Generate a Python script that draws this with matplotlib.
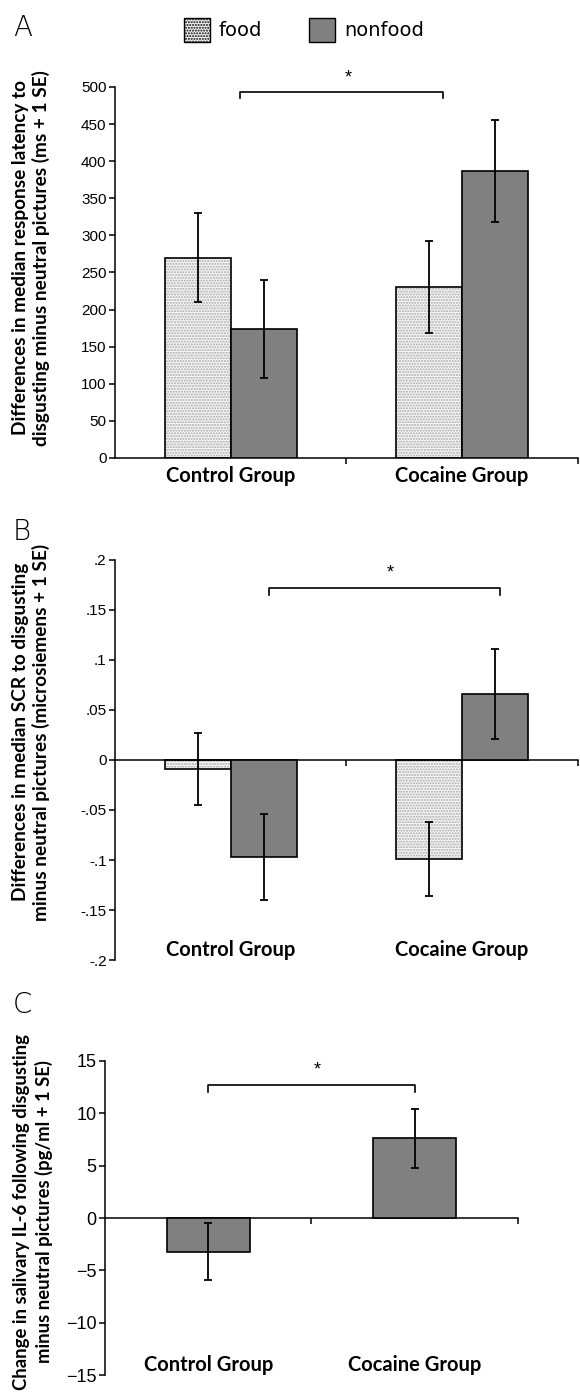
import numpy as np
import matplotlib
matplotlib.use("Agg")
import matplotlib.pyplot as plt
from matplotlib.patches import Patch

plt.rcParams['font.family'] = ['Liberation Sans', 'DejaVu Sans']

groups = ['Control Group', 'Cocaine Group']

# panel A: response latency (ms)
latency_food = [270, 230]
latency_food_se = [60, 62]
latency_nonfood = [174, 387]
latency_nonfood_se = [66, 69]

# panel B: SCR (microsiemens)
scr_food = [-0.009, -0.099]
scr_food_se = [0.036, 0.037]
scr_nonfood = [-0.097, 0.066]
scr_nonfood_se = [0.043, 0.045]

# panel C: IL-6 (pg/ml)
il6 = [-3.2, 7.6]
il6_se = [2.7, 2.8]

b_ticks = [-0.2, -0.15, -0.1, -0.05, 0, 0.05, 0.1, 0.15, 0.2]
b_ticklabels = ['-.2', '-.15', '-.1', '-.05', '0', '.05', '.1', '.15', '.2']

GREY = '#808080'
W = 0.285
lab_font = dict(family=['Lato', 'DejaVu Sans'], fontweight='bold')

fig = plt.figure(figsize=(5.8, 13.96), dpi=100)
axA = fig.add_axes([0.198, 0.672, 0.798, 0.2657])
axB = fig.add_axes([0.198, 0.3123, 0.798, 0.2866])
axC = fig.add_axes([0.181, 0.015, 0.712, 0.225])

x = np.arange(len(groups))


def food_bars(ax, xs, vals, errs):
    ax.bar(xs, vals, W, color='#f6f6f6', edgecolor='#a8a8a8', hatch='......', linewidth=0, zorder=2)
    ax.bar(xs, vals, W, fill=False, edgecolor='black', linewidth=1.2, zorder=3)
    ax.errorbar(xs, vals, yerr=errs, fmt='none', ecolor='black', elinewidth=1.3,
                capsize=3, capthick=1.3, zorder=4)


def nonfood_bars(ax, xs, vals, errs, width=W):
    ax.bar(xs, vals, width, color=GREY, edgecolor='black', linewidth=1.2, zorder=3)
    ax.errorbar(xs, vals, yerr=errs, fmt='none', ecolor='black', elinewidth=1.3,
                capsize=3, capthick=1.3, zorder=4)


def style(ax, zero_axis):
    for s in ['top', 'right']:
        ax.spines[s].set_visible(False)
    if zero_axis:
        ax.spines['bottom'].set_position(('data', 0))
    ax.spines['left'].set_linewidth(1.1)
    ax.spines['bottom'].set_linewidth(1.1)
    ax.set_xlim(-0.5, 1.5)
    ax.set_xticks([0.5, 1.5])
    ax.set_xticklabels([])
    ax.tick_params(axis='x', direction='out', length=4, width=1.1)
    ax.tick_params(axis='y', direction='out', length=4, width=1.1, pad=2)


def bracket(ax, x0, x1, y, drop, star_x, star_y):
    ax.plot([x0, x0, x1, x1], [y - drop, y, y, y - drop], color='black', lw=1.2, clip_on=False)
    ax.text(star_x, star_y, '*', ha='center', va='center', fontsize=13, clip_on=False)


# ---- A ----
food_bars(axA, x - W / 2, latency_food, latency_food_se)
nonfood_bars(axA, x + W / 2, latency_nonfood, latency_nonfood_se)
style(axA, False)
axA.set_ylim(0, 500)
axA.set_yticks(np.arange(0, 501, 50))
axA.tick_params(axis='y', labelsize=11)
for xi, g in zip(x, groups):
    axA.text(xi, -0.05, g, transform=axA.get_xaxis_transform(), ha='center', va='center',
             fontsize=14.5, **lab_font)
axA.set_ylabel('Differences in median response latency to\ndisgusting minus neutral pictures (ms + 1 SE)',
               fontsize=13.7, linespacing=1.2, **lab_font)
axA.yaxis.set_label_coords(-0.14, 0.54)
bracket(axA, 0.04, 0.917, 493, 8, 0.507, 512)

# ---- B ----
food_bars(axB, x - W / 2, scr_food, scr_food_se)
nonfood_bars(axB, x + W / 2, scr_nonfood, scr_nonfood_se)
style(axB, True)
axB.set_ylim(-0.2, 0.2)
axB.set_yticks(b_ticks)
axB.set_yticklabels(b_ticklabels)
axB.tick_params(axis='y', labelsize=11)
for xi, g in zip(x, groups):
    axB.text(xi, 0.025, g, transform=axB.get_xaxis_transform(), ha='center', va='center',
             fontsize=14.5, **lab_font)
axB.set_ylabel('Differences in median SCR to disgusting\nminus neutral pictures (microsiemens + 1 SE)',
               fontsize=13.7, linespacing=1.2, **lab_font)
axB.yaxis.set_label_coords(-0.14, 0.57)
bracket(axB, 0.165, 1.163, 0.172, 0.007, 0.692, 0.187)

# ---- C ----
nonfood_bars(axC, x, il6, il6_se, width=0.4)
style(axC, True)
axC.set_ylim(-15, 15)
axC.set_yticks(np.arange(-15, 16, 5))
axC.tick_params(axis='y', labelsize=13)
for xi, g in zip(x, groups):
    axC.text(xi, 0.032, g, transform=axC.get_xaxis_transform(), ha='center', va='center',
             fontsize=14.5, **lab_font)
axC.set_ylabel('Change in salivary IL-6 following disgusting\nminus neutral pictures (pg/ml + 1 SE)',
               fontsize=13.3, linespacing=1.35, **lab_font)
axC.yaxis.set_label_coords(-0.126, 0.52)
bracket(axC, 0.0, 1.0, 12.7, 0.7, 0.527, 14.1)

# panel letters
for lbl, yy in [('A', 0.98), ('B', 0.619), ('C', 0.28)]:
    fig.text(0.022, yy, lbl, fontsize=20, ha='left', va='center',
             family=['DejaVu Sans'], fontweight='light')

# legend
handles = [Patch(facecolor='#f6f6f6', edgecolor='black', hatch='......', label='food'),
           Patch(facecolor=GREY, edgecolor='black', label='nonfood')]
fig.legend(handles=handles, loc='center', bbox_to_anchor=(0.524, 0.9785), ncol=2, frameon=False,
           handlelength=1.35, handleheight=1.45, columnspacing=2.4, handletextpad=0.45,
           prop=dict(family='DejaVu Sans', size=14))

fig.savefig('out.png', dpi=100)
